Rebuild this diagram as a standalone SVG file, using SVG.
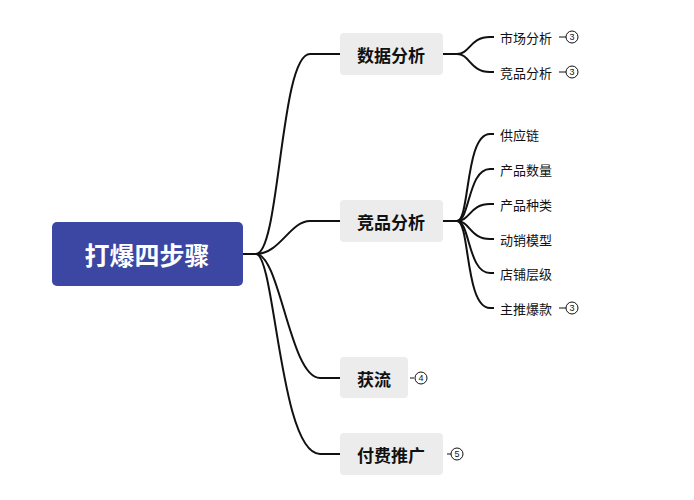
<svg xmlns="http://www.w3.org/2000/svg" width="694" height="500" viewBox="0 0 694 500">
<style>
.c{fill:none;stroke:#111;stroke-width:2}
.b{fill:#ececec}
.t{font-family:"Noto Sans CJK SC",sans-serif;font-size:17px;font-weight:bold;fill:#111;dominant-baseline:central}
.s{font-family:"Noto Sans CJK SC",sans-serif;font-size:13px;fill:#111;dominant-baseline:central}
.n{fill:#fff;stroke:#111;stroke-width:1}
.nt{font-family:"Liberation Sans",sans-serif;font-size:9px;fill:#111;text-anchor:middle;dominant-baseline:central}
.l{stroke:#111;stroke-width:1.2}
</style>
<rect width="694" height="500" fill="#fff"/>
<g id="connectors">
<path class="c" d="M243 254H256C280 254 280 54 310 54H340"/>
<path class="c" d="M256 254C280 254 290 221 310 221H340"/>
<path class="c" d="M256 254C280 254 290 378 320 378H340"/>
<path class="c" d="M256 254C275 254 280 454 320 454H340"/>
<path class="c" d="M443 54H457C470 54 470 37 490 37H494"/>
<path class="c" d="M457 54C470 54 470 72 490 72H494"/>
<path class="c" d="M443 221H457C470 221 465 134 490 134H494"/>
<path class="c" d="M457 221C470 221 468 169 490 169H494"/>
<path class="c" d="M457 221C470 221 470 204 490 204H494"/>
<path class="c" d="M457 221C470 221 470 239 490 239H494"/>
<path class="c" d="M457 221C470 221 468 273 490 273H494"/>
<path class="c" d="M457 221C470 221 465 308 490 308H494"/>
<path class="l" d="M559 37H566M559 72H566M559 308H566M410 378H414M447 454H451"/>
</g>
<g id="root"><rect x="52" y="222" width="191" height="64" rx="5" fill="#3c47a3"/><text x="147" y="254" text-anchor="middle" font-family="Noto Sans CJK SC,sans-serif" font-size="25" font-weight="bold" fill="#fff" dominant-baseline="central">打爆四步骤</text></g>
<g id="n1"><rect class="b" x="340" y="33" width="103" height="42" rx="4"/><text class="t" x="357" y="54">数据分析</text></g>
<g id="n2"><rect class="b" x="340" y="200" width="103" height="42" rx="4"/><text class="t" x="357" y="221">竞品分析</text></g>
<g id="n3"><rect class="b" x="340" y="357" width="68" height="41" rx="4"/><text class="t" x="357" y="378">获流</text></g>
<g id="n4"><rect class="b" x="340" y="433" width="103" height="42" rx="4"/><text class="t" x="357" y="454">付费推广</text></g>
<g id="l1"><text class="s" x="500" y="37">市场分析</text><circle class="n" cx="572" cy="37" r="6"/><text class="nt" x="572" y="37">3</text></g>
<g id="l2"><text class="s" x="500" y="72">竞品分析</text><circle class="n" cx="572" cy="72" r="6"/><text class="nt" x="572" y="72">3</text></g>
<g id="l3"><text class="s" x="500" y="134">供应链</text></g>
<g id="l4"><text class="s" x="500" y="169">产品数量</text></g>
<g id="l5"><text class="s" x="500" y="204">产品种类</text></g>
<g id="l6"><text class="s" x="500" y="239">动销模型</text></g>
<g id="l7"><text class="s" x="500" y="273">店铺层级</text></g>
<g id="l8"><text class="s" x="500" y="308">主推爆款</text><circle class="n" cx="572" cy="308" r="6"/><text class="nt" x="572" y="308">3</text></g>
<g id="c4"><circle class="n" cx="421" cy="378" r="6"/><text class="nt" x="421" y="378">4</text></g>
<g id="c5"><circle class="n" cx="457" cy="454" r="6"/><text class="nt" x="457" y="454">5</text></g>
</svg>
